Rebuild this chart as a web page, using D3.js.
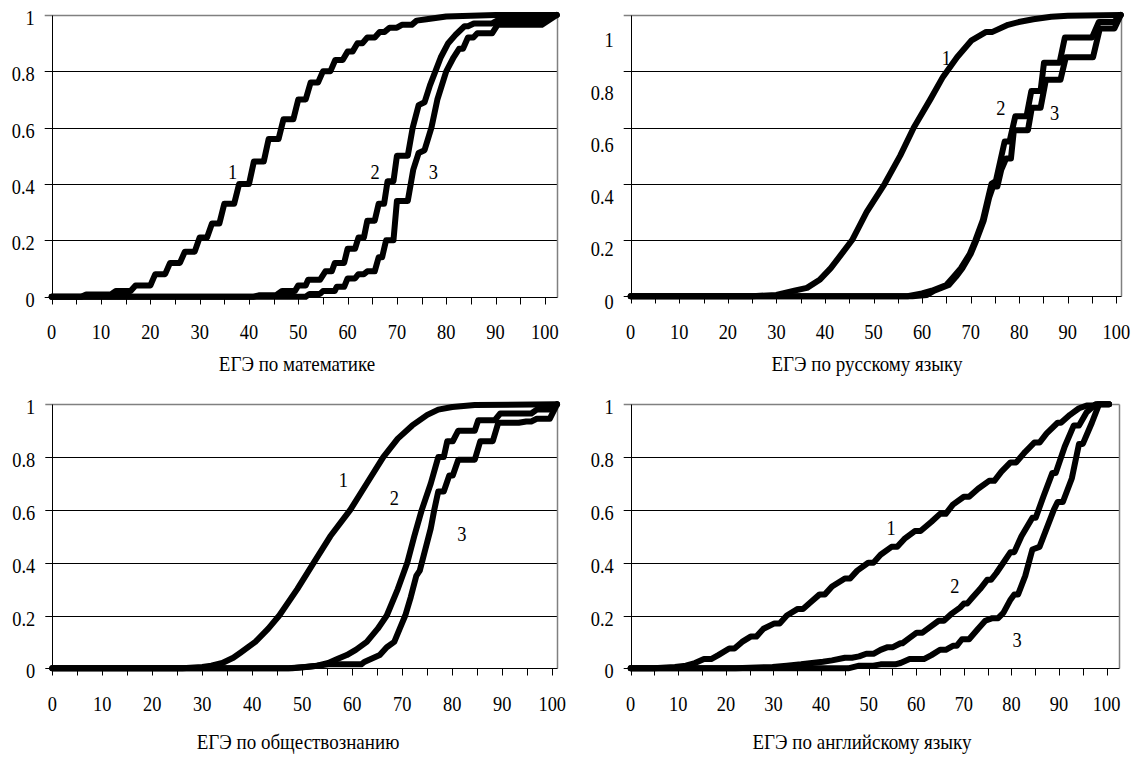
<!DOCTYPE html>
<html><head><meta charset="utf-8">
<script src="https://cdn.jsdelivr.net/npm/d3@7"></script>
<style>body{margin:0;background:#fff}svg{display:block}</style>
</head><body><svg id="c" width="1137" height="757" font-family="'Liberation Serif', 'Times New Roman', Times, serif"></svg>
<script>
// ---------- data ----------
const xTicks = [0,10,20,30,40,50,60,70,80,90,100];
const xMinorTicks = [0,5,10,15,20,25,30,35,40,45,50,55,60,65,70,75,80,85,90,95,100];
const yTicks = [0,0.2,0.4,0.6,0.8,1];
const yTickLabels = ["0","0.2","0.4","0.6","0.8","1"];
const curveNames = ["1","2","3"];
const titles = ["ЕГЭ по математике","ЕГЭ по русскому языку","ЕГЭ по обществознанию","ЕГЭ по английскому языку"];

const math1 = [[0,0],[6,0],[7,0.008],[12,0.008],[13,0.02],[16,0.02],[17,0.04],[20,0.04],[21,0.08],[23,0.08],[24,0.12],[26,0.12],[27,0.16],[29,0.16],[30,0.21],[31.5,0.21],[32.5,0.26],[34,0.26],[35,0.33],[37,0.33],[38,0.40],[40,0.40],[41,0.48],[43,0.48],[44,0.56],[46,0.56],[47,0.63],[49,0.63],[50,0.70],[51.5,0.70],[52.5,0.76],[54,0.76],[55,0.80],[56.5,0.80],[57.5,0.84],[59,0.84],[60,0.87],[61,0.87],[62,0.90],[63,0.90],[64,0.92],[65.5,0.92],[66.5,0.94],[67.5,0.94],[68.5,0.955],[70,0.955],[71,0.965],[73,0.965],[74,0.98],[76,0.985],[80,0.995],[90,1],[102.4,1]];
const math2 = [[0,0],[41,0],[42,0.005],[45.5,0.005],[46.7,0.02],[49.3,0.02],[50,0.04],[51.5,0.04],[52,0.06],[54.4,0.06],[55.5,0.09],[56.8,0.09],[57.4,0.12],[59.3,0.12],[60,0.17],[61.5,0.17],[62.2,0.21],[63.3,0.21],[64,0.27],[65.5,0.27],[66.3,0.33],[67.4,0.33],[68.1,0.41],[69.3,0.41],[70,0.50],[72.2,0.50],[73.2,0.60],[74.4,0.68],[75.6,0.69],[76.7,0.75],[77.8,0.80],[78.9,0.85],[80.4,0.90],[81.9,0.93],[83.7,0.96],[84.4,0.96],[85.6,0.97],[89.3,0.97],[90.5,0.982],[99.4,0.982],[102.4,1]];
const math3 = [[0,0],[51.5,0],[52.3,0.01],[54.4,0.01],[55,0.02],[57.4,0.02],[57.8,0.035],[59.3,0.035],[60,0.065],[61.5,0.065],[62.2,0.08],[63.3,0.08],[64,0.09],[65.5,0.09],[66.3,0.14],[67,0.14],[67.8,0.20],[69.3,0.20],[70,0.34],[72.2,0.34],[73.3,0.45],[74.4,0.51],[75.6,0.52],[77,0.60],[78.2,0.70],[80,0.80],[81.5,0.85],[82.6,0.88],[83.4,0.88],[84.4,0.92],[85.5,0.92],[86.3,0.935],[89.3,0.935],[90.4,0.965],[99.4,0.965],[102.4,1]];

const rus1 = [[0,0],[25,0],[30,0.005],[33.7,0.02],[36.3,0.03],[39,0.06],[41.2,0.10],[43.4,0.15],[45.6,0.20],[48.6,0.30],[52.3,0.40],[55.5,0.50],[58.3,0.60],[61.7,0.70],[64.3,0.78],[67.2,0.85],[70.2,0.91],[73.2,0.94],[74.5,0.94],[77.7,0.965],[79.9,0.975],[82.9,0.985],[86.6,0.994],[90,0.997],[100.9,1]];
const rus2 = [[0,0],[57,0],[60,0.01],[62,0.02],[65,0.04],[66.5,0.07],[68,0.10],[69.8,0.15],[71,0.20],[72.5,0.27],[73.6,0.35],[74.3,0.40],[75.2,0.41],[77,0.55],[78,0.55],[79.2,0.64],[81.5,0.64],[82.5,0.73],[84.4,0.73],[85.1,0.83],[88.3,0.83],[89.4,0.92],[95,0.92],[96.4,0.975],[99.5,0.975],[100.9,1]];
const rus3 = [[0,0],[58,0],[61,0.005],[62.5,0.02],[65.5,0.04],[67,0.07],[68.3,0.10],[70,0.15],[71.2,0.20],[72.7,0.27],[73.8,0.35],[74.6,0.39],[75.5,0.39],[76.3,0.45],[77.3,0.49],[78.3,0.49],[78.9,0.59],[81.8,0.59],[82.6,0.67],[84.4,0.67],[85.5,0.77],[88.5,0.77],[89.6,0.85],[95.2,0.85],[96.6,0.952],[99.6,0.952],[100.9,1]];

const soc1 = [[0,0],[26,0],[30,0.005],[31.8,0.01],[34,0.02],[36.2,0.04],[37.7,0.06],[40.6,0.10],[43.2,0.15],[45.4,0.20],[49,0.30],[52.3,0.40],[55.6,0.50],[59.6,0.60],[62.9,0.70],[66.2,0.80],[69.1,0.87],[72,0.92],[75,0.96],[77.2,0.98],[80,0.99],[84.5,0.997],[100.95,1]];
const soc2 = [[0,0],[47.2,0],[50.8,0.005],[53,0.01],[55.2,0.02],[57,0.035],[58.9,0.05],[60.7,0.07],[62.9,0.10],[65.1,0.15],[66.9,0.20],[69.1,0.30],[71,0.40],[72.4,0.50],[73.9,0.60],[75.7,0.70],[77.2,0.80],[78.3,0.80],[79,0.86],[80.1,0.86],[81.2,0.90],[84.5,0.90],[85.2,0.94],[88.5,0.94],[89.6,0.965],[95.8,0.965],[96.9,0.98],[99.5,0.98],[100.95,1]];
const soc3 = [[0,0],[48,0],[53,0.01],[55.2,0.015],[61.8,0.015],[62.5,0.025],[65.5,0.05],[66.9,0.08],[68.4,0.10],[69.5,0.15],[70.6,0.20],[71.7,0.27],[72.8,0.35],[73.5,0.37],[74.6,0.45],[75.7,0.53],[76.4,0.60],[77.2,0.67],[78.3,0.67],[79.4,0.73],[80.1,0.73],[81.2,0.79],[84.5,0.79],[85.6,0.86],[88.1,0.86],[89.2,0.93],[93.3,0.93],[94.8,0.935],[95.8,0.935],[96.9,0.945],[99.5,0.945],[100.95,1]];

const eng1 = [[0,0],[4.8,0],[9.3,0.005],[11.6,0.01],[13.5,0.02],[15.4,0.035],[16.9,0.035],[18.4,0.05],[20.7,0.075],[21.8,0.075],[23.4,0.10],[25.2,0.12],[26.4,0.12],[27.9,0.15],[30.2,0.17],[31.3,0.17],[32.8,0.20],[35.1,0.225],[36.2,0.225],[37.8,0.25],[39.7,0.28],[40.8,0.28],[42.3,0.31],[45,0.34],[46.1,0.34],[47.6,0.37],[49.9,0.40],[51,0.40],[52.5,0.43],[54.8,0.46],[56,0.46],[57.5,0.49],[59.7,0.52],[60.9,0.52],[63.2,0.555],[65,0.585],[66.2,0.585],[67.7,0.62],[70,0.65],[71.1,0.65],[73,0.68],[75.3,0.71],[76.4,0.71],[77.9,0.745],[79.8,0.78],[81,0.78],[82.9,0.82],[84.8,0.855],[85.9,0.855],[87.4,0.89],[89.7,0.93],[90.4,0.93],[92.3,0.96],[94.2,0.985],[95.8,0.995],[96.9,0.995],[98,1],[100.5,1]];
const eng2 = [[0,0],[22,0],[29.8,0.005],[32.8,0.01],[35.8,0.015],[38.1,0.02],[40.4,0.025],[42.3,0.03],[45,0.04],[46.5,0.04],[48,0.045],[49.5,0.055],[51,0.055],[52.5,0.07],[54,0.08],[55.1,0.08],[56.7,0.095],[57.1,0.095],[58.6,0.115],[60.1,0.135],[61.3,0.135],[62.8,0.155],[64.7,0.18],[65.8,0.18],[67.3,0.205],[69.2,0.23],[70,0.245],[70.7,0.245],[71.9,0.27],[73.4,0.30],[74.9,0.335],[75.7,0.335],[76.8,0.36],[78.3,0.40],[79.8,0.44],[80.6,0.44],[82.1,0.50],[84.4,0.57],[85.1,0.57],[86.7,0.65],[88.6,0.74],[89.3,0.74],[91.2,0.84],[93.1,0.92],[94.2,0.92],[95.8,0.97],[97.7,1],[100.5,1]];
const eng3 = [[0,0],[45.7,0],[48,0.01],[51,0.01],[52.5,0.015],[55.6,0.015],[56.7,0.02],[58.6,0.035],[61.6,0.035],[63.2,0.05],[65,0.07],[66.2,0.07],[67.7,0.085],[68.5,0.085],[69.6,0.11],[71.1,0.11],[73,0.15],[74.5,0.18],[76,0.19],[77.2,0.19],[78.3,0.21],[79.8,0.26],[80.6,0.28],[81.4,0.28],[82.9,0.35],[84.4,0.45],[85.9,0.46],[87.4,0.53],[88.9,0.60],[89.7,0.63],[90.8,0.63],[92.7,0.72],[94.2,0.85],[95,0.85],[96.9,0.93],[98.4,1],[100.5,1]];

// curve-label positions [x, y] in data units
const mathLabelPos = [[36.7,0.444],[65.6,0.444],[77.4,0.444]];
const rusLabelPos  = [[65,0.846],[76.2,0.668],[87.3,0.65]];
const socLabelPos  = [[58.2,0.713],[68.4,0.644],[81.9,0.508]];
const engLabelPos  = [[54.7,0.53],[68.1,0.31],[81.2,0.107]];

// ---------- layout ----------
const panels = [
  {title:titles[0], series:[math1,math2,math3], lab:mathLabelPos, left:51.7, right:556.7, top:15, bottom:296.7, xMax:102.4, tickY:332, titleY:364, titleX:297},
  {title:titles[1], series:[rus1,rus2,rus3], lab:rusLabelPos, left:630.7, right:1120.7, top:15, bottom:296.3, xMax:100.9, tickY:332, titleY:364, titleX:867, labelRange:[301.7,40.2]},
  {title:titles[2], series:[soc1,soc2,soc3], lab:socLabelPos, left:52.3, right:557, top:404.3, bottom:668.3, xMax:100.95, tickY:703.5, titleY:742, titleX:298},
  {title:titles[3], series:[eng1,eng2,eng3], lab:engLabelPos, left:630.7, right:1119, top:404.3, bottom:668.3, xMax:102.6, tickY:703.5, titleY:742, titleX:862}
];

const svg = d3.select("#c");
const px = v => Math.round(v) + 0.5;
const FS = 20, SX = 0.92, TFS = 20, TSX = 0.95;

function label(g, x, y, anchor, size, sx, str) {
  g.append("text")
    .attr("transform", `translate(${x},${y}) scale(${sx},1)`)
    .attr("dy", "0.35em").attr("text-anchor", anchor)
    .attr("font-size", size).attr("fill", "#000").text(str);
}

panels.forEach(p => {
  const x = d3.scaleLinear().domain([0, p.xMax]).range([p.left, p.right]);
  const y = d3.scaleLinear().domain([0, 1]).range([p.bottom, p.top]);
  const yLab = p.labelRange ? d3.scaleLinear().domain([0,1]).range(p.labelRange)
                            : (v => y(v) + 3);
  const g = svg.append("g");

  g.selectAll(".grid").data(yTicks.filter(v => v > 0 && v < 1)).join("line")
    .attr("x1", p.left - 7).attr("x2", px(p.right))
    .attr("y1", d => px(y(d))).attr("y2", d => px(y(d)))
    .attr("stroke", "#000").attr("stroke-width", 1);
  g.append("line").attr("x1", p.left - 7).attr("x2", px(p.right))
    .attr("y1", px(y(1))).attr("y2", px(y(1))).attr("stroke", "#808080").attr("stroke-width", 1.5);
  g.append("line").attr("x1", px(p.right)).attr("x2", px(p.right))
    .attr("y1", px(y(1))).attr("y2", px(y(0))).attr("stroke", "#808080").attr("stroke-width", 1.5);

  g.append("line").attr("x1", px(p.left)).attr("x2", px(p.right))
    .attr("y1", px(y(0))).attr("y2", px(y(0))).attr("stroke", "#000");
  g.selectAll(".xt").data(xMinorTicks).join("line")
    .attr("x1", d => px(x(d))).attr("x2", d => px(x(d)))
    .attr("y1", px(y(0))).attr("y2", px(y(0)) + 7).attr("stroke", "#000");
  xTicks.forEach(d => label(g, x(d), p.tickY, "middle", FS, SX, String(d)));

  g.append("line").attr("x1", px(p.left)).attr("x2", px(p.left))
    .attr("y1", px(y(1))).attr("y2", px(y(0))).attr("stroke", "#000");
  g.append("line").attr("x1", p.left - 7).attr("x2", px(p.left))
    .attr("y1", px(y(0))).attr("y2", px(y(0))).attr("stroke", "#000");
  yTicks.forEach((d, i) => label(g, p.left - 17, yLab(d), "end", FS, SX, yTickLabels[i]));

  const line = d3.line().x(d => x(d[0])).y(d => y(d[1]));
  g.selectAll(".s").data(p.series).join("path")
    .attr("d", line).attr("fill", "none").attr("stroke", "#000")
    .attr("stroke-width", 6).attr("stroke-linejoin", "round").attr("stroke-linecap", "round");

  p.lab.forEach((d, i) => label(g, x(d[0]), y(d[1]), "middle", FS, SX, curveNames[i]));

  label(g, p.titleX, p.titleY, "middle", TFS, TSX, p.title);
});
</script></body></html>
